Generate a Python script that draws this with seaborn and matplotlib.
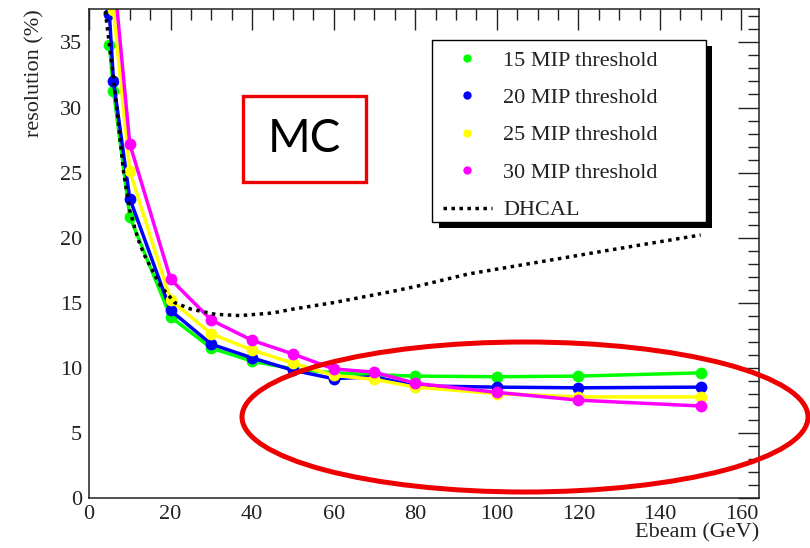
import numpy as np
import pandas as pd
import matplotlib
matplotlib.use("Agg")
import matplotlib.pyplot as plt
import seaborn as sns
from matplotlib.ticker import MultipleLocator
from matplotlib.lines import Line2D
from matplotlib.patches import Rectangle, Ellipse

# ---------------- data ----------------
ebeam = [5, 6, 10, 20, 30, 40, 50, 60, 70, 80, 100, 120, 150]
res_15mip = [34.8, 31.3, 21.6, 13.9, 11.5, 10.5, 9.9, 9.6, 9.45, 9.35, 9.3, 9.35, 9.6]
res_20mip = [37.2, 32.0, 23.0, 14.4, 11.8, 10.75, 9.8, 9.15, 9.3, 8.6, 8.5, 8.45, 8.5]
res_25mip = [42.0, 37.5, 25.1, 15.2, 12.6, 11.35, 10.35, 9.4, 9.1, 8.5, 8.0, 7.75, 7.75]
res_30mip = [47.0, 40.5, 27.2, 16.8, 13.65, 12.1, 11.05, 9.9, 9.65, 8.8, 8.1, 7.5, 7.05]

dhcal_e = [4, 5, 6, 7.5, 8.5, 10, 12, 13.5, 17.5, 21, 25, 31, 37, 45, 50, 60, 75, 81, 93, 110, 126, 150]
dhcal_res = [37.4, 34.8, 32.3, 27.9, 25.0, 22.1, 19.9, 18.7, 16.3, 15.0, 14.5, 14.1, 14.0, 14.2,
             14.5, 15.0, 15.9, 16.3, 17.2, 18.1, 18.95, 20.2]

series_labels = ["15 MIP threshold", "20 MIP threshold", "25 MIP threshold", "30 MIP threshold"]
series_colors = ["#00ff00", "#0000ff", "#ffff00", "#ff00ff"]
dhcal_label = "DHCAL"
x_label = "Ebeam (GeV)"
y_label = "resolution (%)"
mc_text = "MC"

# ---------------- figure ----------------
sns.set_style("white")
plt.rcParams["font.family"] = ["Liberation Serif", "DejaVu Serif"]

W, H = 810, 548
fig = plt.figure(figsize=(W / 100, H / 100), dpi=100)
ax = fig.add_axes([89 / W, 1 - 497.7 / H, 670 / W, 488.4 / H])

df = pd.DataFrame({
    "E": ebeam * 4,
    "res": res_15mip + res_20mip + res_25mip + res_30mip,
    "thr": sum([[lab] * len(ebeam) for lab in series_labels], []),
})
sns.lineplot(data=df, x="E", y="res", hue="thr", hue_order=series_labels,
             palette=dict(zip(series_labels, series_colors)), marker="o",
             markersize=8.5, markeredgewidth=0, linewidth=2.5, legend=False,
             estimator=None, ax=ax)
sns.lineplot(x=dhcal_e, y=dhcal_res, color="black", linewidth=2.5,
             linestyle=(0, (1, 1.3)), dash_capstyle="butt", estimator=None,
             ax=ax, legend=False)

ax.set_xlim(0, 164.3)
ax.set_ylim(0, 37.55)
ax.xaxis.set_major_locator(MultipleLocator(20))
ax.xaxis.set_minor_locator(MultipleLocator(5))
ax.yaxis.set_major_locator(MultipleLocator(5))
ax.yaxis.set_minor_locator(MultipleLocator(1))
ax.tick_params(which="both", direction="in", top=True, right=True, width=1,
               color="#222222", labelsize=16, labelcolor="#222222")
ax.tick_params(which="major", length=15, pad=5)
ax.tick_params(which="minor", length=8)
for sp in ax.spines.values():
    sp.set_color("#222222")
    sp.set_linewidth(1.1)

ax.set_xlabel(x_label, fontsize=16, color="#222222", loc="right")
ax.set_ylabel(y_label, fontsize=16, color="#222222", loc="top")
ax.xaxis.set_label_coords(1.0, -0.052)
ax.yaxis.set_label_coords(-0.066, 1.0)

# legend box with ROOT-style shadow
def fig_rect(x0, y0, x1, y1, **kw):
    return Rectangle((x0 / W, 1 - y1 / H), (x1 - x0) / W, (y1 - y0) / H,
                     transform=fig.transFigure, **kw)

fig.patches.append(fig_rect(439, 46, 712, 228, facecolor="black", edgecolor="none", zorder=3))
fig.patches.append(fig_rect(432, 40, 706, 222, facecolor="white", edgecolor="black",
                            linewidth=1.0, zorder=4))

handles = [Line2D([], [], marker="o", linestyle="none", color=c, markersize=6,
                  markeredgewidth=0) for c in series_colors]
handles.append(Line2D([], [], color="black", linewidth=2.5, linestyle=(0, (1, 1.3))))
leg = fig.legend(handles, series_labels + [dhcal_label], loc="upper left",
                 bbox_to_anchor=(443 / W, 1 - 50 / H), frameon=False, fontsize=16,
                 handlelength=2.2, handletextpad=0.5, labelspacing=0.76,
                 borderpad=0, borderaxespad=0)
leg.set_zorder(5)
for t in leg.get_texts():
    t.set_color("#222222")

# annotations: "MC" box and red ellipse
fig.patches.append(fig_rect(243, 96, 366, 182, facecolor="none", edgecolor="#ee0000",
                            linewidth=2.4, zorder=6))
fig.text(304.5 / W, 1 - 139 / H, mc_text, ha="center", va="center", fontsize=33,
         family=["Lato", "DejaVu Sans"], color="black", zorder=6)
fig.patches.append(Ellipse((525 / W, 1 - 417 / H), 566 / W, 150 / H,
                           transform=fig.transFigure, fill=False, edgecolor="#ee0000",
                           linewidth=3.6, zorder=6))

fig.savefig("out.png", dpi=100, facecolor="white")
